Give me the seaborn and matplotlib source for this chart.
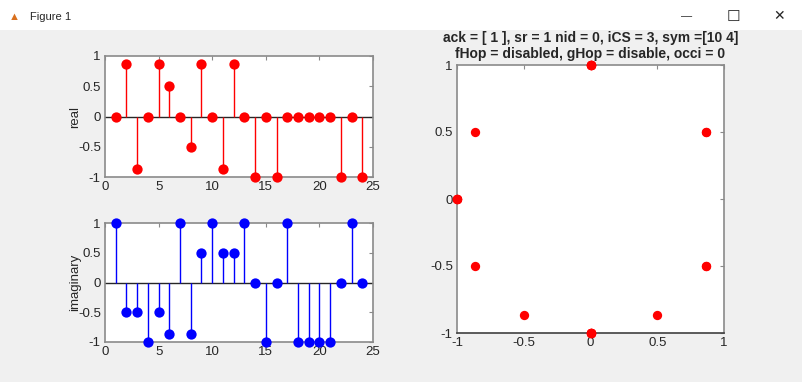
import matplotlib
matplotlib.use("Agg")
import matplotlib.pyplot as plt
import seaborn as sns
import numpy as np
import pandas as pd

# datos del simbolo (indice 1..24)
idx = list(range(1, 25))
real = [0, 0.866, -0.866, 0, 0.866, 0.5, 0, -0.5, 0.866, 0, -0.866, 0.866,
        0, -1, 0, -1, 0, 0, 0, 0, 0, -1, 0, -1]
imag = [1, -0.5, -0.5, -1, -0.5, -0.866, 1, -0.866, 0.5, 1, 0.5, 0.5,
        1, 0, -1, 0, 1, -1, -1, -1, -1, 0, 1, 0]
titulo = ["ack = [ 1 ], sr = 1 nid = 0, iCS = 3, sym =[10 4]",
          "fHop = disabled, gHop = disable, occi = 0"]
ticks_xl = [0, 5, 10, 15, 20, 25]
ticks_y = [-1, -0.5, 0, 0.5, 1]
tick_lbl = ["-1", "-0.5", "0", "0.5", "1"]

df = pd.DataFrame({"n": idx, "real": real, "imag": imag})

sns.set_style("white")
plt.rcParams["font.family"] = ["Arial", "Liberation Sans", "DejaVu Sans"]

fig = plt.figure(figsize=(8.02, 3.82), dpi=100)
fig.patch.set_facecolor("#f0f0f0")

# barra de titulo de la ventana
fig.patches.append(plt.Rectangle((0, 1 - 30 / 382), 1, 30 / 382, transform=fig.transFigure,
                                 facecolor="white", edgecolor="none", zorder=0))
fig.text(30 / 802, 1 - 17 / 382, "Figure 1", fontsize=8, va="center", ha="left")
fig.text(14 / 802, 1 - 17 / 382, "\u25b2", fontsize=8, color="#d9701e", va="center", ha="center")
fig.text(687 / 802, 1 - 16 / 382, "\u2014", fontsize=8, va="center", ha="center")
fig.text(733 / 802, 1 - 16 / 382, "\u2610", fontsize=11, va="center", ha="center", family="DejaVu Sans")
fig.text(779 / 802, 1 - 16 / 382, "\u2715", fontsize=10, va="center", ha="center", family="DejaVu Sans")


def estilo(ax):
    for s in ax.spines.values():
        s.set_color("#8a8a8a")
        s.set_linewidth(1.2)
        s.set_visible(True)
    ax.tick_params(direction="in", length=3, width=0.8, labelsize=9.5,
                   top=True, right=True, color="#8a8a8a", labelcolor="#262626", pad=3)
    ax.set_facecolor("white")


def stem(ax, col, color, label):
    ax.vlines(df["n"], 0, df[col], color=color, linewidth=1.0, zorder=2)
    ax.axhline(0, color="#262626", linewidth=1.0, zorder=1)
    sns.scatterplot(data=df, x="n", y=col, ax=ax, color=color, s=55,
                    edgecolor=color, linewidth=0, zorder=3, clip_on=False)
    ax.set_xlim(0, 25)
    ax.set_ylim(-1, 1)
    ax.set_xticks(ticks_xl)
    ax.set_yticks(ticks_y)
    ax.set_yticklabels(tick_lbl)
    ax.set_xlabel("")
    ax.set_ylabel(label, fontsize=9.5, labelpad=-2, color="#262626")
    estilo(ax)


ax1 = fig.add_axes([105 / 802, 1 - 177 / 382, 268 / 802, 121 / 382])
stem(ax1, "real", "red", "real")

ax2 = fig.add_axes([105 / 802, 1 - 342 / 382, 268 / 802, 119 / 382])
stem(ax2, "imag", "blue", "imaginary")

ax3 = fig.add_axes([457 / 802, 1 - 333 / 382, 267 / 802, 268 / 382])
sns.scatterplot(data=df, x="real", y="imag", ax=ax3, color="red", s=45,
                linewidth=0, zorder=3, clip_on=False)
ax3.set_xlim(-1, 1)
ax3.set_ylim(-1, 1)
ax3.set_xticks(ticks_y)
ax3.set_xticklabels(tick_lbl)
ax3.set_yticks(ticks_y)
ax3.set_yticklabels(tick_lbl)
ax3.set_xlabel("")
ax3.set_ylabel("")
estilo(ax3)
ax3.spines["bottom"].set_color("#404040")
ax3.set_title("\n".join(titulo), fontsize=10, fontweight="bold", pad=5, linespacing=1.2)

fig.savefig("out.png", dpi=100, facecolor=fig.get_facecolor())
